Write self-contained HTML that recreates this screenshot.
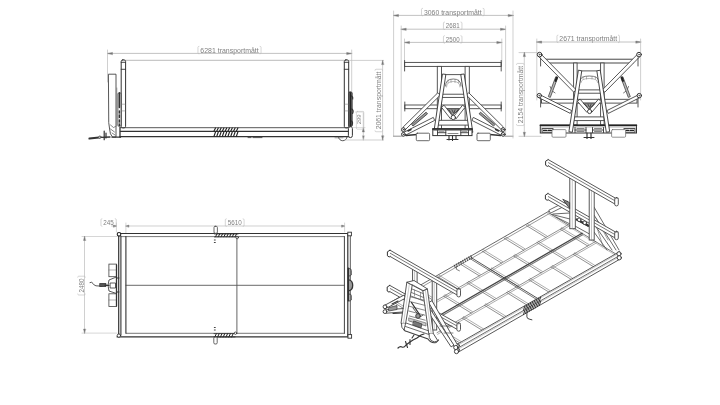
<!DOCTYPE html>
<html><head><meta charset="utf-8"><style>
html,body{margin:0;padding:0;background:#fff;}
svg{display:block;will-change:transform;}
text{font-family:"Liberation Sans",sans-serif;}
</style></head><body>
<svg width="720" height="405" viewBox="0 0 720 405" stroke-linecap="round">
<rect width="720" height="405" fill="#fff"/>
<line x1="107.5" y1="53.4" x2="351.7" y2="53.4" stroke="#bbb" stroke-width="0.9" />
<path d="M107.5,53.4 l5,-1 l0,2 z" stroke="#777" stroke-width="0.4" fill="#777"/>
<path d="M351.7,53.4 l-5,-1 l0,2 z" stroke="#777" stroke-width="0.4" fill="#777"/>
<line x1="107.5" y1="50.0" x2="107.5" y2="82.0" stroke="#bbb" stroke-width="0.7" />
<line x1="351.7" y1="50.0" x2="351.7" y2="128.0" stroke="#bbb" stroke-width="0.7" />
<g transform="translate(229.5 50.1)"><text x="0" y="0" font-size="6.6" fill="#808080" text-anchor="middle" dominant-baseline="central" textLength="58.3" lengthAdjust="spacingAndGlyphs">6281 transportmått</text>
<path d="M-30.549999999999997,-3.8 q-1,0 -1,1 l0,5.6 q0,1 1,1 M30.549999999999997,-3.8 q1,0 1,1 l0,5.6 q0,1 -1,1" stroke="#bbb" stroke-width="0.6" fill="none"/>
</g>
<line x1="125.6" y1="60.3" x2="344.2" y2="60.3" stroke="#bbb" stroke-width="1.0" />
<line x1="349.0" y1="60.4" x2="383.5" y2="60.4" stroke="#bbb" stroke-width="0.7" />
<rect x="121.2" y="59.9" width="4.4" height="68.0" stroke="#333" stroke-width="1.0" fill="#fff" rx="1.6"/>
<line x1="121.2" y1="62.3" x2="125.6" y2="62.3" stroke="#333" stroke-width="0.9" />
<line x1="121.2" y1="69.3" x2="125.6" y2="69.3" stroke="#333" stroke-width="0.9" />
<rect x="344.3" y="59.9" width="4.4" height="68.0" stroke="#333" stroke-width="1.0" fill="#fff" rx="1.6"/>
<line x1="344.3" y1="62.3" x2="348.7" y2="62.3" stroke="#333" stroke-width="0.9" />
<line x1="344.3" y1="69.3" x2="348.7" y2="69.3" stroke="#333" stroke-width="0.9" />
<path d="M108.8,74.2 L116,74.2 L116,137 L112.5,137 Q109.8,134.5 109.6,129 L108.8,123 Z" stroke="#444" stroke-width="0.9" fill="#fff"/>
<line x1="116.8" y1="88.0" x2="116.8" y2="126.0" stroke="#666" stroke-width="0.6" />
<path d="M110.5,125 l3,2.5 l2,-1 M110.5,129 l4,3 M112,133 l3,2" stroke="#555" stroke-width="0.7" fill="none"/>
<rect x="117.9" y="92.5" width="3.1" height="34.0" stroke="#444" stroke-width="0.8" fill="#fff" rx="1.5"/>
<path d="M119.4,93.5 l0,14" stroke="#333" stroke-width="1.6" fill="none"/>
<path d="M119.4,111 l0,2 M119.4,115 l0,2.5 M119.4,120 l0,2 M119.4,124 l0,1.5" stroke="#333" stroke-width="1.4" fill="none"/>
<line x1="121.6" y1="104.2" x2="125.2" y2="104.2" stroke="#777" stroke-width="0.5" />
<line x1="121.6" y1="110.9" x2="125.2" y2="110.9" stroke="#777" stroke-width="0.5" />
<rect x="348.8" y="92.0" width="3.4" height="34.5" stroke="#333" stroke-width="0.8" fill="#777" rx="1.2"/>
<path d="M350.5,93 l0,33" stroke="#222" stroke-width="1.5" fill="none"/>
<path d="M351.5,96 q1.8,1 1.2,3 M351.8,109 q2.2,1.5 0.8,4.5 M351.5,121 q1.8,1.5 0.5,4" stroke="#333" stroke-width="1.2" fill="none"/>
<line x1="344.6" y1="104.2" x2="348.4" y2="104.2" stroke="#777" stroke-width="0.5" />
<line x1="344.6" y1="110.9" x2="348.4" y2="110.9" stroke="#777" stroke-width="0.5" />
<line x1="120.5" y1="127.7" x2="349.0" y2="127.7" stroke="#444" stroke-width="0.9" />
<line x1="120.5" y1="131.4" x2="349.0" y2="131.4" stroke="#333" stroke-width="1.3" />
<line x1="120.0" y1="136.7" x2="349.0" y2="136.7" stroke="#333" stroke-width="1.3" />
<line x1="120.0" y1="127.6" x2="120.0" y2="137.0" stroke="#333" stroke-width="1.3" />
<path d="M214.0,131.0 l1.5,-3" stroke="#222" stroke-width="1.1" fill="none"/>
<path d="M214.0,136.2 l1.5,-4.2" stroke="#222" stroke-width="1.1" fill="none"/>
<path d="M216.8,131.0 l1.5,-3" stroke="#222" stroke-width="1.1" fill="none"/>
<path d="M216.8,136.2 l1.5,-4.2" stroke="#222" stroke-width="1.1" fill="none"/>
<path d="M219.6,131.0 l1.5,-3" stroke="#222" stroke-width="1.1" fill="none"/>
<path d="M219.6,136.2 l1.5,-4.2" stroke="#222" stroke-width="1.1" fill="none"/>
<path d="M222.4,131.0 l1.5,-3" stroke="#222" stroke-width="1.1" fill="none"/>
<path d="M222.4,136.2 l1.5,-4.2" stroke="#222" stroke-width="1.1" fill="none"/>
<path d="M225.2,131.0 l1.5,-3" stroke="#222" stroke-width="1.1" fill="none"/>
<path d="M225.2,136.2 l1.5,-4.2" stroke="#222" stroke-width="1.1" fill="none"/>
<path d="M228.0,131.0 l1.5,-3" stroke="#222" stroke-width="1.1" fill="none"/>
<path d="M228.0,136.2 l1.5,-4.2" stroke="#222" stroke-width="1.1" fill="none"/>
<path d="M230.8,131.0 l1.5,-3" stroke="#222" stroke-width="1.1" fill="none"/>
<path d="M230.8,136.2 l1.5,-4.2" stroke="#222" stroke-width="1.1" fill="none"/>
<path d="M233.6,131.0 l1.5,-3" stroke="#222" stroke-width="1.1" fill="none"/>
<path d="M233.6,136.2 l1.5,-4.2" stroke="#222" stroke-width="1.1" fill="none"/>
<path d="M236.4,131.0 l1.5,-3" stroke="#222" stroke-width="1.1" fill="none"/>
<path d="M236.4,136.2 l1.5,-4.2" stroke="#222" stroke-width="1.1" fill="none"/>
<rect x="348.4" y="126.6" width="4.0" height="11.0" stroke="#333" stroke-width="1.0" fill="#fff" rx="2"/>
<path d="M338.5,137 a4,3.5 0 0 0 8.5,0" stroke="#444" stroke-width="0.9" fill="none"/>
<line x1="335.0" y1="137.8" x2="343.0" y2="137.8" stroke="#666" stroke-width="0.6" />
<path d="M248,137.6 l3,0 M253,137.6 l9,0" stroke="#444" stroke-width="0.9" fill="none"/>
<line x1="345.0" y1="140.0" x2="383.5" y2="140.0" stroke="#bbb" stroke-width="0.7" />
<line x1="363.3" y1="113.0" x2="363.3" y2="140.0" stroke="#bbb" stroke-width="0.7" />
<path d="M363.3,139.8 l-1,-4 l2,0 z" stroke="#bbb" stroke-width="0.5" fill="#777"/>
<path d="M363.3,127.9 l-1,4 l2,0 z" stroke="#777" stroke-width="0.4" fill="#777"/>
<line x1="351.0" y1="127.6" x2="365.0" y2="127.6" stroke="#bbb" stroke-width="0.5" />
<g transform="translate(358.6 119.3) rotate(-90)"><text x="0" y="0" font-size="6.2" fill="#808080" text-anchor="middle" dominant-baseline="central" textLength="9.8" lengthAdjust="spacingAndGlyphs">299</text>
</g>
<rect x="356.4" y="111.4" width="7.4" height="17.8" stroke="#bbb" stroke-width="0.5" fill="none" rx="1"/>
<path d="M355.5,112 l0,-0 l8,0" stroke="#bbb" stroke-width="0.5" fill="none"/>
<line x1="382.6" y1="60.4" x2="382.6" y2="140.0" stroke="#bbb" stroke-width="0.7" />
<path d="M382.6,60.6 l-1,4 l2,0 z" stroke="#777" stroke-width="0.4" fill="#777"/>
<path d="M382.6,139.8 l-1,-4 l2,0 z" stroke="#777" stroke-width="0.4" fill="#777"/>
<g transform="translate(378.8 100.5) rotate(-90)"><text x="0" y="0" font-size="6.6" fill="#808080" text-anchor="middle" dominant-baseline="central" textLength="57.7" lengthAdjust="spacingAndGlyphs">2061 transportmått</text>
<path d="M-30.25,-3.8 q-1,0 -1,1 l0,5.6 q0,1 1,1 M30.25,-3.8 q1,0 1,1 l0,5.6 q0,1 -1,1" stroke="#bbb" stroke-width="0.6" fill="none"/>
</g>
<path d="M112,137.2 L120.5,137.2" stroke="#333" stroke-width="1.3" fill="none"/>
<path d="M89.4,138.6 L99,137.6" stroke="#333" stroke-width="2" fill="none"/>
<path d="M101,137.3 L110,137" stroke="#333" stroke-width="1.3" fill="none"/>
<path d="M104.2,131 l0,8.7 M106,133 l0,5" stroke="#333" stroke-width="1.2" fill="none"/>
<circle cx="99.9" cy="137.2" r="1.2" stroke="#333" stroke-width="0.8" fill="#fff"/>
<line x1="393.5" y1="15.4" x2="513.2" y2="15.4" stroke="#bbb" stroke-width="0.9" />
<path d="M393.5,15.4 l5,-1 l0,2 z" stroke="#777" stroke-width="0.4" fill="#777"/>
<path d="M513.2,15.4 l-5,-1 l0,2 z" stroke="#777" stroke-width="0.4" fill="#777"/>
<g transform="translate(452.8 12.1)"><text x="0" y="0" font-size="6.6" fill="#808080" text-anchor="middle" dominant-baseline="central" textLength="57.8" lengthAdjust="spacingAndGlyphs">3060 transportmått</text>
<path d="M-30.299999999999997,-3.8 q-1,0 -1,1 l0,5.6 q0,1 1,1 M30.299999999999997,-3.8 q1,0 1,1 l0,5.6 q0,1 -1,1" stroke="#bbb" stroke-width="0.6" fill="none"/>
</g>
<line x1="401.2" y1="29.2" x2="505.5" y2="29.2" stroke="#bbb" stroke-width="0.9" />
<path d="M401.2,29.2 l5,-1 l0,2 z" stroke="#777" stroke-width="0.4" fill="#777"/>
<path d="M505.5,29.2 l-5,-1 l0,2 z" stroke="#777" stroke-width="0.4" fill="#777"/>
<g transform="translate(452.7 25.8)"><text x="0" y="0" font-size="6.6" fill="#808080" text-anchor="middle" dominant-baseline="central" textLength="13.7" lengthAdjust="spacingAndGlyphs">2681</text>
<path d="M-8.25,-3.8 q-1,0 -1,1 l0,5.6 q0,1 1,1 M8.25,-3.8 q1,0 1,1 l0,5.6 q0,1 -1,1" stroke="#bbb" stroke-width="0.6" fill="none"/>
</g>
<line x1="404.5" y1="42.4" x2="501.8" y2="42.4" stroke="#bbb" stroke-width="0.9" />
<path d="M404.5,42.4 l5,-1 l0,2 z" stroke="#777" stroke-width="0.4" fill="#777"/>
<path d="M501.8,42.4 l-5,-1 l0,2 z" stroke="#777" stroke-width="0.4" fill="#777"/>
<g transform="translate(452.7 39.5)"><text x="0" y="0" font-size="6.6" fill="#808080" text-anchor="middle" dominant-baseline="central" textLength="13.7" lengthAdjust="spacingAndGlyphs">2500</text>
<path d="M-8.25,-3.8 q-1,0 -1,1 l0,5.6 q0,1 1,1 M8.25,-3.8 q1,0 1,1 l0,5.6 q0,1 -1,1" stroke="#bbb" stroke-width="0.6" fill="none"/>
</g>
<line x1="393.6" y1="11.0" x2="393.6" y2="136.3" stroke="#bbb" stroke-width="0.7" />
<line x1="393.6" y1="136.2" x2="401.5" y2="136.2" stroke="#777" stroke-width="0.8" />
<line x1="505.0" y1="136.2" x2="513.0" y2="136.2" stroke="#777" stroke-width="0.8" />
<line x1="513.0" y1="11.0" x2="513.0" y2="138.0" stroke="#bbb" stroke-width="0.7" />
<line x1="401.2" y1="26.0" x2="401.2" y2="132.0" stroke="#bbb" stroke-width="0.7" />
<line x1="505.6" y1="26.0" x2="505.6" y2="135.0" stroke="#bbb" stroke-width="0.7" />
<line x1="404.5" y1="39.0" x2="404.5" y2="62.0" stroke="#bbb" stroke-width="0.7" />
<line x1="501.8" y1="39.0" x2="501.8" y2="62.0" stroke="#bbb" stroke-width="0.7" />
<rect x="404.6" y="62.4" width="96.6" height="4.0" stroke="#444" stroke-width="0.9" fill="#fff" rx="0"/>
<line x1="404.6" y1="60.5" x2="404.6" y2="71.0" stroke="#444" stroke-width="0.9" />
<line x1="501.2" y1="60.5" x2="501.2" y2="71.0" stroke="#444" stroke-width="0.9" />
<rect x="404.8" y="105.0" width="96.4" height="3.7" stroke="#444" stroke-width="0.9" fill="#fff" rx="0"/>
<line x1="404.8" y1="102.0" x2="404.8" y2="111.0" stroke="#444" stroke-width="0.9" />
<line x1="501.2" y1="102.0" x2="501.2" y2="111.0" stroke="#444" stroke-width="0.9" />
<rect x="437.3" y="66.4" width="4.2" height="63.0" stroke="#444" stroke-width="0.9" fill="#fff" rx="0"/>
<rect x="465.1" y="66.4" width="4.2" height="63.0" stroke="#444" stroke-width="0.9" fill="#fff" rx="0"/>
<path d="M445.5,86 Q445.5,79 453.3,79 Q461,79 461,86" stroke="#555" stroke-width="0.8" fill="none"/>
<path d="M446.5,87 Q446.5,81.5 453.3,81.5 Q460,81.5 460,87" stroke="#888" stroke-width="0.6" fill="none"/>
<line x1="448.0" y1="80.0" x2="448.0" y2="82.5" stroke="#777" stroke-width="0.5" />
<line x1="451.0" y1="80.0" x2="451.0" y2="82.5" stroke="#777" stroke-width="0.5" />
<line x1="455.0" y1="80.0" x2="455.0" y2="82.5" stroke="#777" stroke-width="0.5" />
<line x1="458.5" y1="80.0" x2="458.5" y2="82.5" stroke="#777" stroke-width="0.5" />
<rect x="440.0" y="94.2" width="27.0" height="3.2" stroke="#444" stroke-width="0.9" fill="#fff" rx="0"/>
<path d="M441.7,107.5 L450.7,119.0 L453.3,117.0 L444.3,105.5 Z" stroke="#444" stroke-width="0.9" fill="#fff"/>
<path d="M462.3,105.5 L453.3,117.0 L455.9,119.0 L464.9,107.5 Z" stroke="#444" stroke-width="0.9" fill="#fff"/>
<path d="M447.5,108.8 l11.6,0 l-5.8,6 z" stroke="#444" stroke-width="0.8" fill="#999"/>
<path d="M449,110 l2,2.5 M452,110 l1.5,3 M455,110 l-1,3 M458,110 l-2,2.5" stroke="#333" stroke-width="0.8" fill="none"/>
<circle cx="453.3" cy="117.5" r="2.2" stroke="#333" stroke-width="0.9" fill="#fff"/>
<rect x="437.5" y="120.3" width="31.6" height="4.8" stroke="#444" stroke-width="0.9" fill="#fff" rx="0"/>
<path d="M405.8,129.2 L440.3,95.1 L437.9,92.7 L403.4,126.8 Z" stroke="#444" stroke-width="0.9" fill="#fff"/>
<path d="M413.3,125.8 L427.5,113.8 L426.1,112.2 L411.9,124.2 Z" stroke="#333" stroke-width="0.8" fill="#999"/>
<path d="M405.7,135.1 L434.7,120.4 L433.3,117.4 L404.3,132.1 Z" stroke="#444" stroke-width="0.9" fill="#fff"/>
<path d="M406.0,135.5 L417.0,134.5" stroke="#333" stroke-width="1.6" fill="none"/>
<path d="M408.0,131 l3,-1.5" stroke="#333" stroke-width="1.4" fill="none"/>
<path d="M503.2,126.8 L468.7,92.7 L466.3,95.1 L500.8,129.2 Z" stroke="#444" stroke-width="0.9" fill="#fff"/>
<path d="M494.7,124.2 L480.5,112.2 L479.1,113.8 L493.3,125.8 Z" stroke="#333" stroke-width="0.8" fill="#999"/>
<path d="M502.3,132.1 L473.3,117.4 L471.9,120.4 L500.9,135.1 Z" stroke="#444" stroke-width="0.9" fill="#fff"/>
<path d="M500.6,135.5 L489.6,134.5" stroke="#333" stroke-width="1.6" fill="none"/>
<path d="M498.6,131 l-3,-1.5" stroke="#333" stroke-width="1.4" fill="none"/>
<circle cx="403.4" cy="129.6" r="1.9" stroke="#333" stroke-width="1.0" fill="#fff"/>
<circle cx="403.4" cy="129.6" r="0.5" stroke="#333" stroke-width="0.4" fill="#333"/>
<circle cx="403.4" cy="134.4" r="1.9" stroke="#333" stroke-width="1.0" fill="#fff"/>
<circle cx="403.4" cy="134.4" r="0.5" stroke="#333" stroke-width="0.4" fill="#333"/>
<circle cx="503.2" cy="129.6" r="1.9" stroke="#333" stroke-width="1.0" fill="#fff"/>
<circle cx="503.2" cy="129.6" r="0.5" stroke="#333" stroke-width="0.4" fill="#333"/>
<circle cx="503.2" cy="134.4" r="1.9" stroke="#333" stroke-width="1.0" fill="#fff"/>
<circle cx="503.2" cy="134.4" r="0.5" stroke="#333" stroke-width="0.4" fill="#333"/>
<path d="M442.4,74.4 L433.8,132.3 L437.2,132.7 L445.8,74.8 Z" stroke="#333" stroke-width="0.9" fill="#fff"/>
<path d="M460.8,74.8 L469.4,132.7 L472.8,132.3 L464.2,74.4 Z" stroke="#333" stroke-width="0.9" fill="#fff"/>
<line x1="445.5" y1="74.6" x2="461.1" y2="74.6" stroke="#444" stroke-width="0.9" />
<rect x="432.8" y="128.9" width="39.2" height="6.7" stroke="#333" stroke-width="1.0" fill="#fff" rx="0"/>
<line x1="432.8" y1="129.0" x2="472.0" y2="129.0" stroke="#222" stroke-width="1.4" />
<line x1="433.0" y1="130.5" x2="472.0" y2="130.5" stroke="#777" stroke-width="0.7" />
<path d="M437.5,130.5 l0,4.8 M445.8,130.5 l0,4.8 M437.5,132.7 l8.3,0 M460.8,130.5 l0,4.8 M468.5,130.5 l0,4.8 M460.8,132.7 l7.7,0" stroke="#333" stroke-width="0.9" fill="none"/>
<path d="M439,131.5 l5,0 M462,131.5 l5,0" stroke="#666" stroke-width="0.6" fill="none"/>
<path d="M448,133.5 l10,0" stroke="#555" stroke-width="0.7" fill="none"/>
<path d="M449,136 l0,4 M452.5,136 l0,4.5 M456,136 l0,3.5 M447,139.5 l11,0" stroke="#333" stroke-width="1.1" fill="none"/>
<rect x="416.3" y="133.2" width="13.3" height="7.5" stroke="#444" stroke-width="0.8" fill="#fff" rx="1"/>
<rect x="477.0" y="133.2" width="13.3" height="7.5" stroke="#444" stroke-width="0.8" fill="#fff" rx="1"/>
<g transform="translate(588.2 38.9)"><text x="0" y="0" font-size="6.6" fill="#808080" text-anchor="middle" dominant-baseline="central" textLength="57.7" lengthAdjust="spacingAndGlyphs">2671 transportmått</text>
<path d="M-30.25,-3.8 q-1,0 -1,1 l0,5.6 q0,1 1,1 M30.25,-3.8 q1,0 1,1 l0,5.6 q0,1 -1,1" stroke="#bbb" stroke-width="0.6" fill="none"/>
</g>
<line x1="536.6" y1="42.0" x2="640.8" y2="42.0" stroke="#bbb" stroke-width="0.9" />
<path d="M536.6,42 l5,-1 l0,2 z" stroke="#777" stroke-width="0.4" fill="#777"/>
<path d="M640.8,42 l-5,-1 l0,2 z" stroke="#777" stroke-width="0.4" fill="#777"/>
<line x1="536.8" y1="39.0" x2="536.8" y2="100.0" stroke="#bbb" stroke-width="0.7" />
<line x1="640.6" y1="39.0" x2="640.6" y2="100.0" stroke="#bbb" stroke-width="0.7" />
<line x1="524.3" y1="52.6" x2="524.3" y2="136.3" stroke="#bbb" stroke-width="0.7" />
<line x1="519.0" y1="52.6" x2="537.0" y2="52.6" stroke="#bbb" stroke-width="0.7" />
<line x1="519.0" y1="136.3" x2="541.0" y2="136.3" stroke="#bbb" stroke-width="0.7" />
<path d="M524.3,52.6 l-1,4 l2,0 z" stroke="#777" stroke-width="0.4" fill="#777"/>
<path d="M524.3,136.3 l-1,-4 l2,0 z" stroke="#777" stroke-width="0.4" fill="#777"/>
<g transform="translate(520.3 94.5) rotate(-90)"><text x="0" y="0" font-size="6.6" fill="#808080" text-anchor="middle" dominant-baseline="central" textLength="57.3" lengthAdjust="spacingAndGlyphs">2154 transportmått</text>
<path d="M-30.049999999999997,-3.8 q-1,0 -1,1 l0,5.6 q0,1 1,1 M30.049999999999997,-3.8 q1,0 1,1 l0,5.6 q0,1 -1,1" stroke="#bbb" stroke-width="0.6" fill="none"/>
</g>
<rect x="545.5" y="59.2" width="87.5" height="3.8" stroke="#333" stroke-width="0.9" fill="#fff" rx="0"/>
<rect x="573.6" y="63.0" width="3.5" height="62.0" stroke="#444" stroke-width="0.9" fill="#fff" rx="0"/>
<rect x="600.6" y="63.0" width="3.5" height="62.0" stroke="#444" stroke-width="0.9" fill="#fff" rx="0"/>
<path d="M550,86.5 q1,5 5,6.5 M628.6,86.5 q-1,5 -5,6.5" stroke="#555" stroke-width="0.8" fill="none"/>
<path d="M580,81 Q580,76 589.3,76 Q598.6,76 598.6,81" stroke="#555" stroke-width="0.8" fill="none"/>
<path d="M581,82.5 Q581,78.5 589.3,78.5 Q597.6,78.5 597.6,82.5" stroke="#888" stroke-width="0.6" fill="none"/>
<line x1="583.0" y1="76.8" x2="583.0" y2="79.0" stroke="#777" stroke-width="0.5" />
<line x1="586.5" y1="76.8" x2="586.5" y2="79.0" stroke="#777" stroke-width="0.5" />
<line x1="592.0" y1="76.8" x2="592.0" y2="79.0" stroke="#777" stroke-width="0.5" />
<line x1="595.5" y1="76.8" x2="595.5" y2="79.0" stroke="#777" stroke-width="0.5" />
<rect x="576.0" y="89.9" width="26.6" height="3.3" stroke="#444" stroke-width="0.9" fill="#fff" rx="0"/>
<rect x="541.5" y="99.3" width="95.5" height="3.8" stroke="#444" stroke-width="0.9" fill="#fff" rx="0"/>
<path d="M577.7,101.6 L586.7,112.1 L589.3,109.9 L580.3,99.4 Z" stroke="#444" stroke-width="0.9" fill="#fff"/>
<path d="M598.3,99.4 L589.3,109.9 L591.9,112.1 L600.9,101.6 Z" stroke="#444" stroke-width="0.9" fill="#fff"/>
<path d="M583.5,103.2 l11.6,0 l-5.8,5.5 z" stroke="#444" stroke-width="0.8" fill="#999"/>
<path d="M585,104.3 l2,2.3 M588,104.3 l1.3,2.7 M591,104.3 l-1,2.7 M594,104.3 l-2,2.3" stroke="#333" stroke-width="0.8" fill="none"/>
<circle cx="589.6" cy="111.5" r="2.1" stroke="#333" stroke-width="0.9" fill="#fff"/>
<rect x="573.5" y="116.9" width="30.5" height="3.7" stroke="#444" stroke-width="0.9" fill="#fff" rx="0"/>
<path d="M539.3,57.2 L573.8,92.2 L576.2,89.8 L541.7,54.8 Z" stroke="#444" stroke-width="0.9" fill="#fff"/>
<path d="M555.6,77.1 L548.3,96.6 L550.3,97.4 L557.6,77.9 Z" stroke="#444" stroke-width="0.8" fill="#bbb"/>
<line x1="556.8" y1="77.6" x2="555.6" y2="80.8" stroke="#222" stroke-width="2.2" />
<path d="M539.3,97.9 L570.3,113.4 L571.7,110.6 L540.7,95.1 Z" stroke="#444" stroke-width="0.9" fill="#fff"/>
<path d="M636.9,54.8 L602.4,89.8 L604.8,92.2 L639.3,57.2 Z" stroke="#444" stroke-width="0.9" fill="#fff"/>
<path d="M621.0,77.9 L628.3,97.4 L630.3,96.6 L623.0,77.1 Z" stroke="#444" stroke-width="0.8" fill="#bbb"/>
<line x1="621.8" y1="77.6" x2="623.0" y2="80.8" stroke="#222" stroke-width="2.2" />
<path d="M637.9,95.1 L606.9,110.6 L608.3,113.4 L639.3,97.9 Z" stroke="#444" stroke-width="0.9" fill="#fff"/>
<circle cx="539.6" cy="54.6" r="2.3" stroke="#333" stroke-width="1.0" fill="#fff"/>
<circle cx="539.6" cy="54.6" r="0.6" stroke="#555" stroke-width="0.5" fill="#555"/>
<circle cx="639.0" cy="54.6" r="2.3" stroke="#333" stroke-width="1.0" fill="#fff"/>
<circle cx="639.0" cy="54.6" r="0.6" stroke="#555" stroke-width="0.5" fill="#555"/>
<circle cx="539.3" cy="95.6" r="2.2" stroke="#333" stroke-width="1.0" fill="#fff"/>
<circle cx="539.3" cy="95.6" r="0.6" stroke="#555" stroke-width="0.5" fill="#555"/>
<circle cx="639.3" cy="95.6" r="2.2" stroke="#333" stroke-width="1.0" fill="#fff"/>
<circle cx="639.3" cy="95.6" r="0.6" stroke="#555" stroke-width="0.5" fill="#555"/>
<line x1="540.6" y1="58.0" x2="540.6" y2="66.0" stroke="#444" stroke-width="0.9" />
<line x1="638.0" y1="58.0" x2="638.0" y2="66.0" stroke="#444" stroke-width="0.9" />
<line x1="540.6" y1="99.0" x2="540.6" y2="107.0" stroke="#444" stroke-width="0.9" />
<line x1="638.0" y1="99.0" x2="638.0" y2="107.0" stroke="#444" stroke-width="0.9" />
<rect x="540.3" y="125.2" width="96.2" height="7.8" stroke="#333" stroke-width="1.0" fill="#fff" rx="0"/>
<line x1="540.3" y1="125.3" x2="636.5" y2="125.3" stroke="#222" stroke-width="1.5" />
<line x1="541.0" y1="126.9" x2="636.0" y2="126.9" stroke="#777" stroke-width="0.7" />
<rect x="542.0" y="128.6" width="11.0" height="3.6" stroke="#333" stroke-width="0.9" fill="none" rx="0"/>
<rect x="624.0" y="128.6" width="11.0" height="3.6" stroke="#333" stroke-width="0.9" fill="none" rx="0"/>
<path d="M543.5,130.4 l3,0 M548,130.4 l3.5,0 M625.5,130.4 l3,0 M630,130.4 l3.5,0" stroke="#222" stroke-width="1.3" fill="none"/>
<path d="M575,127.5 l0,5 M586,127.5 l0,5 M575,130 l11,0 M592.5,127.5 l0,5 M603.5,127.5 l0,5 M592.5,130 l11,0" stroke="#333" stroke-width="0.9" fill="none"/>
<path d="M577,128.5 l7,0 M594.5,128.5 l7,0 M577,131.5 l7,0 M594.5,131.5 l7,0" stroke="#555" stroke-width="0.7" fill="none"/>
<path d="M578.3,70.6 L568.9,131.7 L572.3,132.3 L581.7,71.2 Z" stroke="#333" stroke-width="0.9" fill="#fff"/>
<path d="M596.9,71.2 L606.3,132.3 L609.7,131.7 L600.3,70.6 Z" stroke="#333" stroke-width="0.9" fill="#fff"/>
<line x1="581.7" y1="70.9" x2="596.6" y2="70.9" stroke="#444" stroke-width="0.9" />
<line x1="587.0" y1="133.0" x2="587.0" y2="138.5" stroke="#333" stroke-width="1.2" />
<line x1="591.0" y1="133.0" x2="591.0" y2="138.5" stroke="#333" stroke-width="1.2" />
<line x1="584.0" y1="137.5" x2="594.0" y2="137.5" stroke="#333" stroke-width="1" />
<rect x="552.0" y="129.6" width="14.0" height="7.6" stroke="#666" stroke-width="0.7" fill="#fff" rx="1"/>
<rect x="611.6" y="129.6" width="14.0" height="7.6" stroke="#666" stroke-width="0.7" fill="#fff" rx="1"/>
<g transform="translate(108.6 222.5)"><text x="0" y="0" font-size="6.6" fill="#808080" text-anchor="middle" dominant-baseline="central" textLength="10.5" lengthAdjust="spacingAndGlyphs">245</text>
<path d="M-6.65,-3.8 q-1,0 -1,1 l0,5.6 q0,1 1,1 M6.65,-3.8 q1,0 1,1 l0,5.6 q0,1 -1,1" stroke="#bbb" stroke-width="0.6" fill="none"/>
</g>
<line x1="111.5" y1="226.0" x2="116.4" y2="226.0" stroke="#bbb" stroke-width="0.7" />
<path d="M116.4,226 l-3,-1 l0,2 z" stroke="#777" stroke-width="0.4" fill="#777"/>
<line x1="125.9" y1="226.0" x2="344.6" y2="226.0" stroke="#bbb" stroke-width="0.7" />
<path d="M125.9,226 l3,-1 l0,2 z" stroke="#777" stroke-width="0.4" fill="#777"/>
<path d="M344.6,226 l-3,-1 l0,2 z" stroke="#777" stroke-width="0.4" fill="#777"/>
<line x1="116.4" y1="223.0" x2="116.4" y2="232.0" stroke="#bbb" stroke-width="0.6" />
<line x1="125.9" y1="223.0" x2="125.9" y2="233.0" stroke="#bbb" stroke-width="0.6" />
<line x1="344.6" y1="223.0" x2="344.6" y2="232.0" stroke="#bbb" stroke-width="0.6" />
<g transform="translate(234.7 222.6)"><text x="0" y="0" font-size="6.6" fill="#808080" text-anchor="middle" dominant-baseline="central" textLength="14" lengthAdjust="spacingAndGlyphs">5610</text>
<path d="M-8.4,-3.8 q-1,0 -1,1 l0,5.6 q0,1 1,1 M8.4,-3.8 q1,0 1,1 l0,5.6 q0,1 -1,1" stroke="#bbb" stroke-width="0.6" fill="none"/>
</g>
<line x1="84.5" y1="236.5" x2="84.5" y2="333.1" stroke="#bbb" stroke-width="0.7" />
<line x1="82.0" y1="236.5" x2="117.0" y2="236.5" stroke="#bbb" stroke-width="0.6" />
<line x1="82.0" y1="333.1" x2="117.0" y2="333.1" stroke="#bbb" stroke-width="0.6" />
<path d="M84.5,236.5 l-1,4 l2,0 z" stroke="#777" stroke-width="0.4" fill="#777"/>
<path d="M84.5,333.1 l-1,-4 l2,0 z" stroke="#777" stroke-width="0.4" fill="#777"/>
<g transform="translate(81.5 285.6) rotate(-90)"><text x="0" y="0" font-size="6.6" fill="#808080" text-anchor="middle" dominant-baseline="central" textLength="14" lengthAdjust="spacingAndGlyphs">2480</text>
<path d="M-8.4,-3.8 q-1,0 -1,1 l0,5.6 q0,1 1,1 M8.4,-3.8 q1,0 1,1 l0,5.6 q0,1 -1,1" stroke="#bbb" stroke-width="0.6" fill="none"/>
</g>
<line x1="120.5" y1="233.5" x2="350.0" y2="233.5" stroke="#333" stroke-width="1.2" />
<line x1="121.0" y1="236.6" x2="344.4" y2="236.6" stroke="#555" stroke-width="0.8" />
<line x1="126.3" y1="333.3" x2="344.4" y2="333.3" stroke="#555" stroke-width="0.8" />
<line x1="117.0" y1="336.8" x2="350.5" y2="336.8" stroke="#333" stroke-width="1.3" />
<line x1="118.7" y1="234.0" x2="118.7" y2="336.0" stroke="#333" stroke-width="1.2" />
<line x1="120.9" y1="236.0" x2="120.9" y2="335.0" stroke="#333" stroke-width="1.1" />
<line x1="125.9" y1="236.6" x2="125.9" y2="333.3" stroke="#333" stroke-width="1.1" />
<line x1="344.4" y1="236.6" x2="344.4" y2="333.3" stroke="#444" stroke-width="1" />
<line x1="347.8" y1="234.0" x2="347.8" y2="336.0" stroke="#333" stroke-width="1.2" />
<line x1="350.3" y1="234.0" x2="350.3" y2="336.0" stroke="#444" stroke-width="0.9" />
<line x1="125.9" y1="285.3" x2="344.4" y2="285.3" stroke="#444" stroke-width="0.8" />
<line x1="236.9" y1="236.6" x2="236.9" y2="333.3" stroke="#555" stroke-width="0.9" />
<path d="M215.5,236.8 l1.6,-3.2" stroke="#222" stroke-width="1.0" fill="none"/>
<path d="M218.3,236.8 l1.6,-3.2" stroke="#222" stroke-width="1.0" fill="none"/>
<path d="M221.1,236.8 l1.6,-3.2" stroke="#222" stroke-width="1.0" fill="none"/>
<path d="M223.9,236.8 l1.6,-3.2" stroke="#222" stroke-width="1.0" fill="none"/>
<path d="M226.7,236.8 l1.6,-3.2" stroke="#222" stroke-width="1.0" fill="none"/>
<path d="M229.5,236.8 l1.6,-3.2" stroke="#222" stroke-width="1.0" fill="none"/>
<path d="M232.3,236.8 l1.6,-3.2" stroke="#222" stroke-width="1.0" fill="none"/>
<path d="M235.1,236.8 l1.6,-3.2" stroke="#222" stroke-width="1.0" fill="none"/>
<path d="M214.8,337 l1.6,-3.4" stroke="#222" stroke-width="1.0" fill="none"/>
<path d="M217.6,337 l1.6,-3.4" stroke="#222" stroke-width="1.0" fill="none"/>
<path d="M220.4,337 l1.6,-3.4" stroke="#222" stroke-width="1.0" fill="none"/>
<path d="M223.2,337 l1.6,-3.4" stroke="#222" stroke-width="1.0" fill="none"/>
<path d="M226.0,337 l1.6,-3.4" stroke="#222" stroke-width="1.0" fill="none"/>
<path d="M228.8,337 l1.6,-3.4" stroke="#222" stroke-width="1.0" fill="none"/>
<path d="M231.6,337 l1.6,-3.4" stroke="#222" stroke-width="1.0" fill="none"/>
<line x1="214.5" y1="234.0" x2="238.0" y2="234.0" stroke="#333" stroke-width="0.8" />
<line x1="214.5" y1="236.9" x2="238.0" y2="236.9" stroke="#333" stroke-width="0.9" />
<line x1="214.0" y1="333.6" x2="235.0" y2="333.6" stroke="#333" stroke-width="0.8" />
<line x1="214.0" y1="336.9" x2="235.0" y2="336.9" stroke="#333" stroke-width="0.9" />
<circle cx="237.2" cy="237.6" r="1.2" stroke="#333" stroke-width="0.8" fill="#fff"/>
<circle cx="235.5" cy="333.2" r="1.2" stroke="#333" stroke-width="0.8" fill="#fff"/>
<rect x="214.0" y="226.3" width="3.4" height="7.0" stroke="#444" stroke-width="0.8" fill="#fff" rx="1.2"/>
<rect x="213.8" y="337.0" width="3.4" height="7.0" stroke="#444" stroke-width="0.8" fill="#fff" rx="1.2"/>
<line x1="214.3" y1="240.0" x2="215.3" y2="240.0" stroke="#444" stroke-width="1" />
<line x1="214.3" y1="242.5" x2="215.3" y2="242.5" stroke="#444" stroke-width="1" />
<line x1="214.3" y1="327.5" x2="215.3" y2="327.5" stroke="#444" stroke-width="1" />
<line x1="214.3" y1="330.0" x2="215.3" y2="330.0" stroke="#444" stroke-width="1" />
<circle cx="119.0" cy="234.3" r="1.8" stroke="#222" stroke-width="1.1" fill="#fff"/>
<circle cx="118.9" cy="335.6" r="1.7" stroke="#333" stroke-width="0.9" fill="#fff"/>
<rect x="347.8" y="232.2" width="3.6" height="3.6" stroke="#333" stroke-width="0.9" fill="#fff" rx="0"/>
<rect x="348.0" y="334.6" width="3.6" height="3.6" stroke="#333" stroke-width="0.9" fill="#fff" rx="0"/>
<path d="M348.4,268.5 l0,32" stroke="#333" stroke-width="1.8" fill="none"/>
<path d="M349.3,268.5 q2,0 2,2 l0,4.5 q-0.8,1 -2,1 M349.3,294 q2,0 2,1.5 l0,4.5 q-0.8,1 -2,1" stroke="#444" stroke-width="0.9" fill="none"/>
<path d="M349.3,280 q3.4,1 3.4,5.3 q0,4.6 -3.4,5.3" stroke="#333" stroke-width="1.3" fill="#999"/>
<rect x="108.9" y="264.1" width="7.5" height="12.6" stroke="#444" stroke-width="0.8" fill="#fff" rx="0"/>
<rect x="108.9" y="293.8" width="7.5" height="12.6" stroke="#444" stroke-width="0.8" fill="#fff" rx="0"/>
<line x1="108.9" y1="270.0" x2="116.4" y2="270.0" stroke="#666" stroke-width="0.5" />
<line x1="108.9" y1="300.0" x2="116.4" y2="300.0" stroke="#666" stroke-width="0.5" />
<path d="M116.4,277 L109,280 L108,285.3 L109,291 L116.4,293.5" stroke="#444" stroke-width="0.9" fill="#fff"/>
<path d="M110.5,283 l5,0 l0,5 l-5,0 z" stroke="#333" stroke-width="0.8" fill="none"/>
<line x1="116.5" y1="265.0" x2="116.5" y2="306.0" stroke="#333" stroke-width="1.3" />
<line x1="116.5" y1="278.0" x2="119.0" y2="278.0" stroke="#333" stroke-width="1" />
<line x1="116.5" y1="292.0" x2="119.0" y2="292.0" stroke="#333" stroke-width="1" />
<path d="M90,282.5 q2,-1 3,1 q1,2 3,2.3 l6,0.4" stroke="#444" stroke-width="0.9" fill="none"/>
<path d="M100,283.5 l6,0 l0,3 l-6,0 z" stroke="#333" stroke-width="0.8" fill="#555"/>
<line x1="105.0" y1="285.3" x2="109.0" y2="285.3" stroke="#333" stroke-width="1.2" />
<line x1="393.4" y1="302.2" x2="412.7" y2="314.1" stroke="#555" stroke-width="0.65" />
<line x1="394.5" y1="300.7" x2="413.8" y2="312.6" stroke="#777" stroke-width="0.6" />
<line x1="440.1" y1="330.9" x2="460.2" y2="343.2" stroke="#555" stroke-width="0.65" />
<line x1="441.2" y1="329.4" x2="461.3" y2="341.7" stroke="#777" stroke-width="0.6" />
<line x1="415.6" y1="289.4" x2="434.9" y2="301.3" stroke="#555" stroke-width="0.65" />
<line x1="416.7" y1="287.9" x2="436.0" y2="299.8" stroke="#777" stroke-width="0.6" />
<line x1="462.3" y1="318.1" x2="482.4" y2="330.4" stroke="#555" stroke-width="0.65" />
<line x1="463.4" y1="316.6" x2="483.5" y2="328.9" stroke="#777" stroke-width="0.6" />
<line x1="437.8" y1="276.6" x2="457.1" y2="288.5" stroke="#555" stroke-width="0.65" />
<line x1="438.9" y1="275.1" x2="458.2" y2="287.0" stroke="#777" stroke-width="0.6" />
<line x1="484.5" y1="305.3" x2="504.6" y2="317.6" stroke="#555" stroke-width="0.65" />
<line x1="485.6" y1="303.8" x2="505.7" y2="316.1" stroke="#777" stroke-width="0.6" />
<line x1="459.9" y1="263.9" x2="479.3" y2="275.8" stroke="#555" stroke-width="0.65" />
<line x1="461.0" y1="262.4" x2="480.4" y2="274.3" stroke="#777" stroke-width="0.6" />
<line x1="506.7" y1="292.6" x2="526.7" y2="304.9" stroke="#555" stroke-width="0.65" />
<line x1="507.8" y1="291.1" x2="527.8" y2="303.4" stroke="#777" stroke-width="0.6" />
<line x1="482.1" y1="251.1" x2="501.5" y2="263.0" stroke="#555" stroke-width="0.65" />
<line x1="483.2" y1="249.6" x2="502.6" y2="261.5" stroke="#777" stroke-width="0.6" />
<line x1="528.9" y1="279.8" x2="548.9" y2="292.1" stroke="#555" stroke-width="0.65" />
<line x1="530.0" y1="278.3" x2="550.0" y2="290.6" stroke="#777" stroke-width="0.6" />
<line x1="504.3" y1="238.3" x2="523.7" y2="250.2" stroke="#555" stroke-width="0.65" />
<line x1="505.4" y1="236.8" x2="524.8" y2="248.7" stroke="#777" stroke-width="0.6" />
<line x1="551.1" y1="267.0" x2="571.1" y2="279.3" stroke="#555" stroke-width="0.65" />
<line x1="552.2" y1="265.5" x2="572.2" y2="277.8" stroke="#777" stroke-width="0.6" />
<line x1="526.5" y1="225.6" x2="545.9" y2="237.5" stroke="#555" stroke-width="0.65" />
<line x1="527.6" y1="224.1" x2="547.0" y2="236.0" stroke="#777" stroke-width="0.6" />
<line x1="573.3" y1="254.3" x2="593.3" y2="266.6" stroke="#555" stroke-width="0.65" />
<line x1="574.4" y1="252.8" x2="594.4" y2="265.1" stroke="#777" stroke-width="0.6" />
<line x1="420.5" y1="309.6" x2="434.5" y2="318.2" stroke="#555" stroke-width="0.65" />
<line x1="421.6" y1="308.1" x2="435.6" y2="316.7" stroke="#777" stroke-width="0.6" />
<line x1="434.5" y1="318.2" x2="447.9" y2="326.4" stroke="#555" stroke-width="0.65" />
<line x1="435.6" y1="316.7" x2="449.0" y2="324.9" stroke="#777" stroke-width="0.6" />
<line x1="443.8" y1="296.2" x2="457.8" y2="304.8" stroke="#555" stroke-width="0.65" />
<line x1="444.9" y1="294.7" x2="458.9" y2="303.3" stroke="#777" stroke-width="0.6" />
<line x1="457.8" y1="304.8" x2="471.2" y2="313.0" stroke="#555" stroke-width="0.65" />
<line x1="458.9" y1="303.3" x2="472.3" y2="311.5" stroke="#777" stroke-width="0.6" />
<line x1="467.1" y1="282.8" x2="481.1" y2="291.4" stroke="#555" stroke-width="0.65" />
<line x1="468.2" y1="281.3" x2="482.2" y2="289.9" stroke="#777" stroke-width="0.6" />
<line x1="481.1" y1="291.4" x2="494.5" y2="299.6" stroke="#555" stroke-width="0.65" />
<line x1="482.2" y1="289.9" x2="495.6" y2="298.1" stroke="#777" stroke-width="0.6" />
<line x1="490.4" y1="269.4" x2="504.4" y2="278.0" stroke="#555" stroke-width="0.65" />
<line x1="491.5" y1="267.9" x2="505.5" y2="276.5" stroke="#777" stroke-width="0.6" />
<line x1="504.4" y1="278.0" x2="517.8" y2="286.2" stroke="#555" stroke-width="0.65" />
<line x1="505.5" y1="276.5" x2="518.9" y2="284.7" stroke="#777" stroke-width="0.6" />
<line x1="513.7" y1="256.0" x2="527.7" y2="264.6" stroke="#555" stroke-width="0.65" />
<line x1="514.8" y1="254.5" x2="528.8" y2="263.1" stroke="#777" stroke-width="0.6" />
<line x1="527.7" y1="264.6" x2="541.1" y2="272.8" stroke="#555" stroke-width="0.65" />
<line x1="528.8" y1="263.1" x2="542.2" y2="271.3" stroke="#777" stroke-width="0.6" />
<line x1="537.0" y1="242.6" x2="551.0" y2="251.2" stroke="#555" stroke-width="0.65" />
<line x1="538.1" y1="241.1" x2="552.1" y2="249.7" stroke="#777" stroke-width="0.6" />
<line x1="551.0" y1="251.2" x2="564.4" y2="259.4" stroke="#555" stroke-width="0.65" />
<line x1="552.1" y1="249.7" x2="565.5" y2="257.9" stroke="#777" stroke-width="0.6" />
<line x1="560.3" y1="229.2" x2="574.3" y2="237.8" stroke="#555" stroke-width="0.65" />
<line x1="561.4" y1="227.7" x2="575.4" y2="236.3" stroke="#777" stroke-width="0.6" />
<line x1="574.3" y1="237.8" x2="587.7" y2="246.0" stroke="#555" stroke-width="0.65" />
<line x1="575.4" y1="236.3" x2="588.8" y2="244.5" stroke="#777" stroke-width="0.6" />
<line x1="409.6" y1="315.9" x2="568.1" y2="224.7" stroke="#555" stroke-width="0.65" />
<line x1="410.2" y1="317.5" x2="568.7" y2="226.3" stroke="#777" stroke-width="0.6" />
<line x1="437.0" y1="332.7" x2="595.5" y2="241.5" stroke="#555" stroke-width="0.65" />
<line x1="437.6" y1="334.3" x2="596.1" y2="243.1" stroke="#777" stroke-width="0.6" />
<line x1="390.2" y1="302.5" x2="548.7" y2="211.3" stroke="#444" stroke-width="0.8" />
<line x1="390.6" y1="304.9" x2="549.1" y2="213.7" stroke="#555" stroke-width="0.6" />
<line x1="548.7" y1="212.8" x2="615.5" y2="253.8" stroke="#555" stroke-width="0.8" />
<line x1="547.5" y1="213.5" x2="614.3" y2="254.5" stroke="#888" stroke-width="0.5" />
<line x1="423.6" y1="324.5" x2="582.1" y2="233.3" stroke="#444" stroke-width="1.3" />
<line x1="424.1" y1="326.0" x2="582.6" y2="234.8" stroke="#777" stroke-width="1.1" />
<line x1="471.0" y1="257.5" x2="537.8" y2="298.5" stroke="#444" stroke-width="0.9" />
<line x1="469.7" y1="258.4" x2="536.5" y2="299.4" stroke="#555" stroke-width="0.8" />
<path d="M454.4,265.1 l0.8,2.6" stroke="#333" stroke-width="0.8" fill="none"/>
<path d="M456.5,263.9 l0.8,2.6" stroke="#333" stroke-width="0.8" fill="none"/>
<path d="M458.5,262.7 l0.8,2.6" stroke="#333" stroke-width="0.8" fill="none"/>
<path d="M460.6,261.5 l0.8,2.6" stroke="#333" stroke-width="0.8" fill="none"/>
<path d="M462.6,260.3 l0.8,2.6" stroke="#333" stroke-width="0.8" fill="none"/>
<path d="M464.7,259.1 l0.8,2.6" stroke="#333" stroke-width="0.8" fill="none"/>
<path d="M466.8,258.0 l0.8,2.6" stroke="#333" stroke-width="0.8" fill="none"/>
<path d="M468.8,256.8 l0.8,2.6" stroke="#333" stroke-width="0.8" fill="none"/>
<path d="M470.9,255.6 l0.8,2.6" stroke="#333" stroke-width="0.8" fill="none"/>
<path d="M456.4,266.3 l0,3 l3,1.5" stroke="#444" stroke-width="0.7" fill="none"/>
<path d="M458.5,343.5 L619.5,251.7 L619.5,259.4 L458.5,352.0 Z" stroke="#444" stroke-width="0.9" fill="#fff"/>
<line x1="458.5" y1="344.8" x2="619.5" y2="252.9" stroke="#888" stroke-width="0.5" />
<line x1="458.5" y1="347.7" x2="619.5" y2="255.6" stroke="#444" stroke-width="0.8" />
<line x1="458.5" y1="349.0" x2="619.5" y2="256.8" stroke="#999" stroke-width="0.5" />
<circle cx="457.2" cy="345.7" r="2.1" stroke="#333" stroke-width="0.9" fill="#fff"/>
<circle cx="457.2" cy="349.9" r="2.1" stroke="#333" stroke-width="0.9" fill="#fff"/>
<circle cx="619.0" cy="253.8" r="2.1" stroke="#333" stroke-width="0.9" fill="#fff"/>
<circle cx="619.3" cy="257.8" r="2.1" stroke="#333" stroke-width="0.9" fill="#fff"/>
<path d="M523.5,310.3 l1.3,-4.2 M523.5,314.7 l1.3,-4.2" stroke="#333" stroke-width="1.0" fill="none"/>
<path d="M525.5,309.2 l1.3,-4.2 M525.5,313.6 l1.3,-4.2" stroke="#333" stroke-width="1.0" fill="none"/>
<path d="M527.4,308.0 l1.3,-4.2 M527.4,312.4 l1.3,-4.2" stroke="#333" stroke-width="1.0" fill="none"/>
<path d="M529.4,306.9 l1.3,-4.2 M529.4,311.3 l1.3,-4.2" stroke="#333" stroke-width="1.0" fill="none"/>
<path d="M531.4,305.7 l1.3,-4.2 M531.4,310.1 l1.3,-4.2" stroke="#333" stroke-width="1.0" fill="none"/>
<path d="M533.4,304.6 l1.3,-4.2 M533.4,309.0 l1.3,-4.2" stroke="#333" stroke-width="1.0" fill="none"/>
<path d="M535.4,303.5 l1.3,-4.2 M535.4,307.9 l1.3,-4.2" stroke="#333" stroke-width="1.0" fill="none"/>
<path d="M537.4,302.3 l1.3,-4.2 M537.4,306.7 l1.3,-4.2" stroke="#333" stroke-width="1.0" fill="none"/>
<path d="M539.3,301.2 l1.3,-4.2 M539.3,305.6 l1.3,-4.2" stroke="#333" stroke-width="1.0" fill="none"/>
<path d="M526.9,312.8 l0,4 q0,2 3,2.5 l2,0.5" stroke="#444" stroke-width="1" fill="none"/>
<path d="M594,207 L619,250 M594,215 L616,250 M594,224 L612,250 M594,232 L607,250" stroke="#444" stroke-width="0.8" fill="none"/>
<path d="M596,218 L608,240 M597,228 L603,246" stroke="#666" stroke-width="0.6" fill="none"/>
<path d="M550.8,213.0 L568.8,204.0 L567.2,201.0 L549.2,210.0 Z" stroke="#444" stroke-width="0.8" fill="#fff"/>
<path d="M552,214.5 L570,219 M556,217 L570,224 M553,214 L570,213" stroke="#444" stroke-width="0.8" fill="none"/>
<path d="M575,212.5 L589.5,220.5 M575,219 L589.5,227 M575,226 L589.5,234" stroke="#444" stroke-width="0.8" fill="none"/>
<path d="M577,219.5 L588,225.5" stroke="#333" stroke-width="2.4" fill="none"/>
<circle cx="579.2" cy="219.8" r="1.8" stroke="#333" stroke-width="0.8" fill="#fff"/>
<circle cx="584.8" cy="222.8" r="1.8" stroke="#333" stroke-width="0.8" fill="#fff"/>
<path d="M548.0,193.5 L615.0,231.7 L615.0,237.9 L548.0,199.7 Z" stroke="none" stroke-width="0" fill="#fff"/>
<line x1="548.0" y1="193.5" x2="615.0" y2="231.7" stroke="#444" stroke-width="0.9" />
<line x1="548.0" y1="196.4" x2="615.0" y2="234.6" stroke="#555" stroke-width="0.8" />
<line x1="548.0" y1="199.7" x2="615.0" y2="237.9" stroke="#444" stroke-width="0.9" />
<path d="M548.0,193.5 L545.4,195.1 L545.4,199.1 L547.2,200.3 L548.0,199.7" stroke="#333" stroke-width="1.0" fill="#fff"/>
<rect x="614.7" y="231.3" width="3.6" height="8.4" stroke="#444" stroke-width="0.9" fill="#fff" rx="1.7"/>
<line x1="614.7" y1="232.7" x2="618.3" y2="232.1" stroke="#666" stroke-width="0.5" />
<rect x="569.8" y="177.0" width="5.5" height="51.7" stroke="#444" stroke-width="0.9" fill="#fff" rx="0"/>
<line x1="572.3" y1="177.0" x2="572.3" y2="228.7" stroke="#888" stroke-width="0.5" />
<path d="M563,199.5 L569.6,208.5 L569.6,203 Z" stroke="#333" stroke-width="0.8" fill="#888"/>
<rect x="589.2" y="188.5" width="5.0" height="51.5" stroke="#444" stroke-width="0.9" fill="#fff" rx="0"/>
<line x1="591.5" y1="188.5" x2="591.5" y2="240.0" stroke="#888" stroke-width="0.5" />
<path d="M548.2,159.6 L615.0,197.9 L615.0,204.1 L548.2,165.8 Z" stroke="none" stroke-width="0" fill="#fff"/>
<line x1="548.2" y1="159.6" x2="615.0" y2="197.9" stroke="#444" stroke-width="0.9" />
<line x1="548.2" y1="162.5" x2="615.0" y2="200.8" stroke="#555" stroke-width="0.8" />
<line x1="548.2" y1="165.8" x2="615.0" y2="204.1" stroke="#444" stroke-width="0.9" />
<path d="M548.2,159.6 L545.6,161.2 L545.6,165.2 L547.4,166.4 L548.2,165.8" stroke="#333" stroke-width="1.0" fill="#fff"/>
<rect x="614.7" y="197.5" width="3.6" height="8.4" stroke="#444" stroke-width="0.9" fill="#fff" rx="1.7"/>
<line x1="614.7" y1="198.9" x2="618.3" y2="198.3" stroke="#666" stroke-width="0.5" />
<path d="M389.8,285.4 L457.2,323.2 L457.2,329.4 L389.8,291.6 Z" stroke="none" stroke-width="0" fill="#fff"/>
<line x1="389.8" y1="285.4" x2="457.2" y2="323.2" stroke="#444" stroke-width="0.9" />
<line x1="389.8" y1="288.3" x2="457.2" y2="326.1" stroke="#555" stroke-width="0.8" />
<line x1="389.8" y1="291.6" x2="457.2" y2="329.4" stroke="#444" stroke-width="0.9" />
<path d="M389.8,285.4 L387.2,287.0 L387.2,291.0 L389.0,292.2 L389.8,291.6" stroke="#333" stroke-width="1.0" fill="#fff"/>
<rect x="456.9" y="322.8" width="3.6" height="8.4" stroke="#444" stroke-width="0.9" fill="#fff" rx="1.7"/>
<line x1="456.9" y1="324.2" x2="460.5" y2="323.6" stroke="#666" stroke-width="0.5" />
<rect x="412.6" y="268.0" width="4.5" height="50.0" stroke="#444" stroke-width="0.9" fill="#fff" rx="0"/>
<line x1="414.6" y1="268.0" x2="414.6" y2="318.0" stroke="#888" stroke-width="0.5" />
<rect x="432.2" y="280.0" width="4.5" height="50.0" stroke="#444" stroke-width="0.9" fill="#fff" rx="0"/>
<line x1="434.2" y1="280.0" x2="434.2" y2="330.0" stroke="#888" stroke-width="0.5" />
<path d="M390.0,250.2 L457.2,288.9 L457.2,295.1 L390.0,256.4 Z" stroke="none" stroke-width="0" fill="#fff"/>
<line x1="390.0" y1="250.2" x2="457.2" y2="288.9" stroke="#444" stroke-width="0.9" />
<line x1="390.0" y1="253.1" x2="457.2" y2="291.8" stroke="#555" stroke-width="0.8" />
<line x1="390.0" y1="256.4" x2="457.2" y2="295.1" stroke="#444" stroke-width="0.9" />
<path d="M390.0,250.2 L387.4,251.8 L387.4,255.8 L389.2,257.0 L390.0,256.4" stroke="#333" stroke-width="1.0" fill="#fff"/>
<rect x="456.9" y="288.5" width="3.6" height="8.4" stroke="#444" stroke-width="0.9" fill="#fff" rx="1.7"/>
<line x1="456.9" y1="289.9" x2="460.5" y2="289.3" stroke="#666" stroke-width="0.5" />
<path d="M386.8,308.0 L405.8,298.0 L404.2,295.0 L385.2,305.0 Z" stroke="#444" stroke-width="0.9" fill="#fff"/>
<path d="M386.1,313.2 L407.1,311.7 L406.9,308.3 L385.9,309.8 Z" stroke="#444" stroke-width="0.9" fill="#fff"/>
<path d="M389,307.5 l8,-2 l0,4 l-8,1.5 z" stroke="#333" stroke-width="0.7" fill="#999"/>
<circle cx="385.0" cy="306.8" r="1.9" stroke="#333" stroke-width="0.9" fill="#fff"/>
<circle cx="385.0" cy="311.6" r="1.9" stroke="#333" stroke-width="0.9" fill="#fff"/>
<path d="M392,304 l6,-3 M393,313.5 l9,-0.5" stroke="#333" stroke-width="1.1" fill="none"/>
<path d="M428.9,303.0 L454.4,347.0 L457.6,345.0 L432.1,301.0 Z" stroke="#444" stroke-width="0.9" fill="#fff"/>
<path d="M428.1,311.9 L451.1,346.9 L453.9,345.1 L430.9,310.1 Z" stroke="#444" stroke-width="0.9" fill="#fff"/>
<path d="M440,326 l12,0 M444,333 l9,0" stroke="#555" stroke-width="0.7" fill="none"/>
<circle cx="455.8" cy="347.5" r="2.1" stroke="#333" stroke-width="0.9" fill="#fff"/>
<circle cx="456.5" cy="351.6" r="2.1" stroke="#333" stroke-width="0.9" fill="#fff"/>
<path d="M412.3,284.7 L423.2,290.6 L429.1,333.5 L405.6,323.4 Z" stroke="none" stroke-width="0" fill="#fff"/>
<path d="M403,326 Q403,331 407,331.5 L428,339 Q431,343.5 436,342.5 L438.5,340" stroke="#444" stroke-width="1.1" fill="#fff"/>
<path d="M406,323 L429,331 M405.5,326.5 L429,334.5" stroke="#444" stroke-width="0.8" fill="none"/>
<path d="M407.0,296.0 l17.0,4.2" stroke="#555" stroke-width="0.7" fill="none"/>
<path d="M407.6,301.0 l16.7,4.2" stroke="#555" stroke-width="0.7" fill="none"/>
<path d="M408.2,306.0 l16.4,4.2" stroke="#555" stroke-width="0.7" fill="none"/>
<path d="M408.8,311.0 l16.1,4.2" stroke="#555" stroke-width="0.7" fill="none"/>
<path d="M409.4,316.0 l15.8,4.2" stroke="#555" stroke-width="0.7" fill="none"/>
<path d="M410.0,321.0 l15.5,4.2" stroke="#555" stroke-width="0.7" fill="none"/>
<path d="M409,318 l17,5 l0,3 l-17,-5 z" stroke="#555" stroke-width="0.6" fill="#ccc"/>
<path d="M411.5,302.5 l8,12" stroke="#333" stroke-width="1.3" fill="none"/>
<path d="M413,308 l7,9 l3,-2" stroke="#444" stroke-width="0.9" fill="none"/>
<circle cx="418.0" cy="316.0" r="2.3" stroke="#333" stroke-width="0.9" fill="#999"/>
<path d="M414,321 l8,3 l-1,4 l-8,-3 z" stroke="#333" stroke-width="0.7" fill="#777"/>
<path d="M407.2,282.2 L412.3,284.7 L405.6,323.4 L401.4,323.4 Z" stroke="#444" stroke-width="0.9" fill="#fff"/>
<line x1="409.5" y1="283.4" x2="403.4" y2="323.4" stroke="#999" stroke-width="0.5" />
<path d="M423.2,290.6 L427.4,288.9 L433.3,333.5 L429.1,333.5 Z" stroke="#444" stroke-width="0.9" fill="#fff"/>
<line x1="425.3" y1="289.8" x2="431.2" y2="333.5" stroke="#999" stroke-width="0.5" />
<path d="M407.2,282.2 L414,280.5 L427.4,288.9 L423.2,290.6 Z" stroke="#444" stroke-width="0.9" fill="#fff"/>
<path d="M412.3,284.7 L423.2,290.6" stroke="#555" stroke-width="0.7" fill="none"/>
<path d="M412,289 l11,4.5 M411.5,292.5 l12,5 M411,296 l12.5,5" stroke="#555" stroke-width="0.8" fill="none"/>
<path d="M414.5,290 l0,6 M420.5,292.5 l0,6" stroke="#666" stroke-width="0.6" fill="none"/>
<path d="M429.1,333.5 Q428.5,338 431,340.5 Q434,343 438,341 L433.3,333.5" stroke="#444" stroke-width="0.9" fill="#fff"/>
<path d="M401.4,323.4 Q401,328 404,330 L405.6,323.4" stroke="#444" stroke-width="0.9" fill="#fff"/>
<path d="M398,348 q2,-2 4,-1 q2,1 4,-2 l4,-3 l3,-2 l4,-2 l4,-3 l3,-1" stroke="#333" stroke-width="1.2" fill="none"/>
<path d="M405.5,341.5 l2,6 M410,339.5 l0,5 M412,338 l2,-3" stroke="#333" stroke-width="1.1" fill="none"/>
</svg></body></html>
